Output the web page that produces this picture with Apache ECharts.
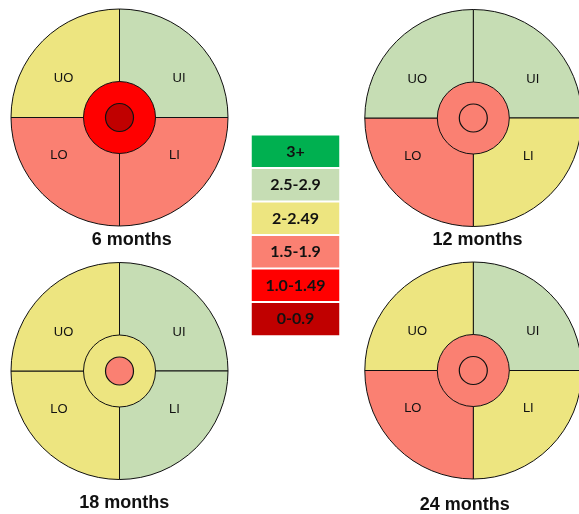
<!DOCTYPE html>
<html>
<head>
<meta charset="utf-8">
<script src="https://cdn.jsdelivr.net/npm/echarts@6/dist/echarts.min.js"></script>
<style>
  html, body { margin: 0; padding: 0; background: #fff; }
  #chart { width: 579px; height: 514px; }
</style>
</head>
<body>
<div id="chart"></div>
<script>
// ---- data ----
const categories = ['3+', '2.5-2.9', '2-2.49', '1.5-1.9', '1.0-1.49', '0-0.9'];
const categoryColors = ['#00B050', '#C6DDB4', '#EDE580', '#FA8072', '#FF0000', '#C00000'];
const panelTitles = ['6 months', '12 months', '18 months', '24 months'];
const regionNames = ['UO', 'UI', 'LO', 'LI'];
const uoValues = ['2-2.49', '2.5-2.9', '2-2.49', '2-2.49'];
const uiValues = ['2.5-2.9', '2.5-2.9', '2.5-2.9', '2.5-2.9'];
const loValues = ['1.5-1.9', '1.5-1.9', '2-2.49', '1.5-1.9'];
const liValues = ['1.5-1.9', '2-2.49', '2.5-2.9', '2-2.49'];
const ringValues = ['1.0-1.49', '1.5-1.9', '2-2.49', '1.5-1.9'];
const centerValues = ['0-0.9', '1.5-1.9', '1.5-1.9', '1.5-1.9'];

// ---- layout ----
const panelCenters = [[119.5, 117.5], [473.3, 118], [119.5, 371], [473.3, 370.5]];
const titlePos = [[131.7, 240], [477.5, 240.5], [124.2, 503], [464.8, 505]];
const outerR = 108.5, ringR = 36, centerR = 14;
const labelOffsets = { UO: [-56, -39], UI: [59.5, -39], LO: [-60.5, 38], LI: [55, 38] };

const colorOf = v => categoryColors[categories.indexOf(v)];
const edge = '#111';

const series = [];
panelTitles.forEach((t, p) => {
  // clockwise from top: UI, LI, LO, UO
  const order = [
    ['UI', uiValues[p]], ['LI', liValues[p]], ['LO', loValues[p]], ['UO', uoValues[p]]
  ];
  const c = panelCenters[p];
  series.push({
    type: 'pie', silent: true, animation: false,
    center: c, radius: [0, outerR], startAngle: 90, clockwise: true,
    data: order.map(([n, v]) => ({ name: n, value: 1, itemStyle: { color: colorOf(v) } })),
    itemStyle: { borderColor: edge, borderWidth: 1 },
    label: { show: true, position: 'inside', formatter: '{b}', rotate: 0,
      fontFamily: 'Liberation Sans', fontSize: 13, color: '#111' },
    labelLine: { show: false },
    labelLayout: params => {
      const name = order[params.dataIndex][0];
      const o = labelOffsets[name];
      return { x: c[0] + o[0], y: c[1] + o[1], align: 'center', verticalAlign: 'middle' };
    },
    emphasis: { disabled: true }
  });
  series.push({
    type: 'pie', silent: true, animation: false,
    center: c, radius: [0, ringR],
    data: [{ name: 'ring', value: 1, itemStyle: { color: colorOf(ringValues[p]) } }],
    itemStyle: { borderColor: edge, borderWidth: 1 },
    label: { show: false }, labelLine: { show: false },
    emphasis: { disabled: true }
  });
  series.push({
    type: 'pie', silent: true, animation: false,
    center: c, radius: [0, centerR],
    data: [{ name: 'center', value: 1, itemStyle: { color: colorOf(centerValues[p]) } }],
    itemStyle: { borderColor: edge, borderWidth: 1.2 },
    label: { show: false }, labelLine: { show: false },
    emphasis: { disabled: true }
  });
});

// legend as a heatmap column
series.push({
  type: 'heatmap', silent: true, animation: false,
  xAxisIndex: 0, yAxisIndex: 0,
  data: categories.map((cat, i) => ({ value: [0, i, i], itemStyle: { color: categoryColors[i] } })),
  itemStyle: { borderColor: '#fff', borderWidth: 2 },
  label: { show: true, formatter: p => categories[p.value[1]],
    fontFamily: 'Lato', fontWeight: 'bold', fontSize: 16, color: '#111' },
  emphasis: { disabled: true }
});

const option = {
  backgroundColor: '#fff',
  animation: false,
  grid: { left: 251, top: 134.7, width: 89, height: 201.2 },
  xAxis: { type: 'category', data: [''], show: false },
  yAxis: { type: 'category', data: categories, inverse: true, show: false },
  graphic: panelTitles.map((t, p) => ({
    type: 'text', x: titlePos[p][0], y: titlePos[p][1], silent: true,
    style: { text: t, fill: '#111', font: 'bold 18px "Liberation Sans"',
      textAlign: 'center', textVerticalAlign: 'middle' }
  })),
  series: series
};

const chart = echarts.init(document.getElementById('chart'), null, { renderer: 'canvas' });
chart.setOption(option);
</script>
</body>
</html>
